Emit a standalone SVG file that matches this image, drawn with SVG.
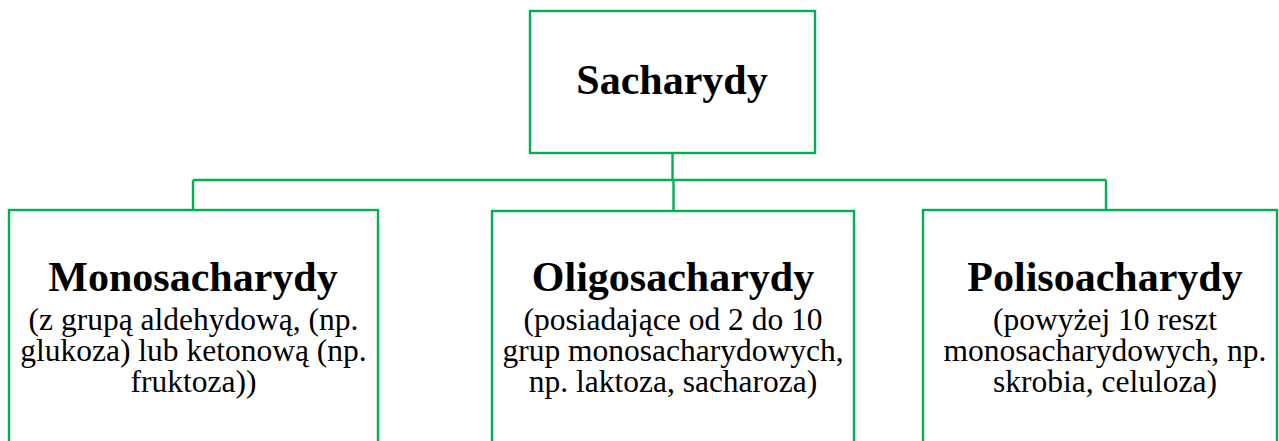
<svg xmlns="http://www.w3.org/2000/svg" width="1279" height="441" viewBox="0 0 1279 441">
  <style>
    .box { fill: #ffffff; stroke: #00b050; stroke-width: 2.4; }
    .link { fill: none; stroke: #00b050; stroke-width: 2.4; }
    .title { font-family: "Liberation Serif", "Times New Roman", serif; font-weight: bold; font-size: 42px; fill: #000; text-anchor: middle; }
    .body { font-family: "Liberation Serif", "Times New Roman", serif; font-size: 31.5px; fill: #000; text-anchor: middle; }
  </style>
  <rect width="1279" height="441" fill="#ffffff"/>

  <!-- connectors: root stem, bus, and drops to each child -->
  <g id="connectors">
    <path class="link" d="M672.5 153 V180"/>
    <path class="link" d="M193 180 H1106"/>
    <path class="link" d="M193 180 V210"/>
    <path class="link" d="M673.5 180 V211"/>
    <path class="link" d="M1106 180 V210"/>
  </g>

  <g id="root">
    <rect class="box" x="530" y="11" width="285" height="142"/>
    <text class="title" x="672" y="94">Sacharydy</text>
  </g>

  <g id="mono">
    <rect class="box" x="9" y="210" width="369" height="245"/>
    <text class="title" x="193" y="291">Monosacharydy</text>
    <text class="body" x="193.5" y="330">(z grupą aldehydową, (np.</text>
    <text class="body" x="193.5" y="361">glukoza) lub ketonową (np.</text>
    <text class="body" x="193.5" y="392">fruktoza))</text>
  </g>

  <g id="oligo">
    <rect class="box" x="492" y="211" width="362" height="245"/>
    <text class="title" x="673" y="291">Oligosacharydy</text>
    <text class="body" x="673" y="330">(posiadające od 2 do 10</text>
    <text class="body" x="673" y="361">grup monosacharydowych,</text>
    <text class="body" x="673" y="392">np. laktoza, sacharoza)</text>
  </g>

  <g id="poli">
    <rect class="box" x="923" y="210" width="354" height="245"/>
    <text class="title" x="1105" y="291">Polisoacharydy</text>
    <text class="body" x="1105" y="330">(powyżej 10 reszt</text>
    <text class="body" x="1105" y="361">monosacharydowych, np.</text>
    <text class="body" x="1105" y="392">skrobia, celuloza)</text>
  </g>
</svg>
